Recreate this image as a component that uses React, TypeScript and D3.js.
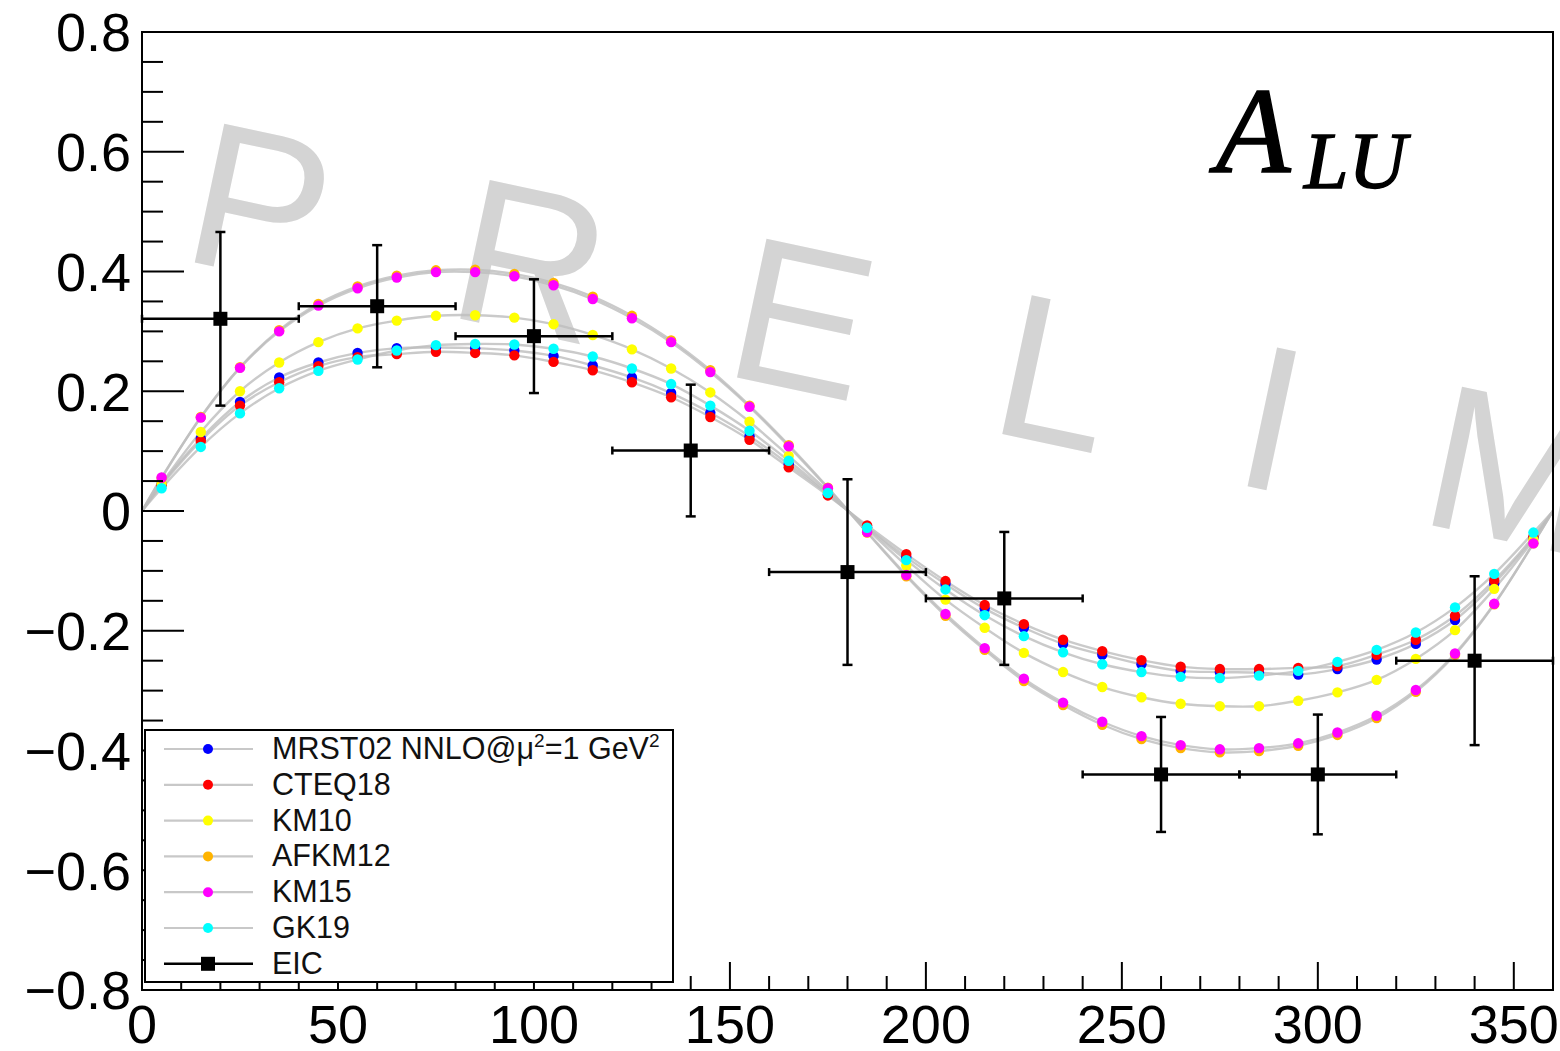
import React from "react";
import * as d3 from "d3";

const PHI = [5, 15, 25, 35, 45, 55, 65, 75, 85, 95, 105, 115, 125, 135, 145, 155, 165, 175, 185, 195, 205, 215, 225, 235, 245, 255, 265, 275, 285, 295, 305, 315, 325, 335, 345, 355];

const MRST02 = [0.045, 0.121, 0.182, 0.223, 0.248, 0.264, 0.272, 0.273, 0.272, 0.268, 0.259, 0.243, 0.223, 0.197, 0.164, 0.125, 0.078, 0.028, -0.027, -0.077, -0.122, -0.163, -0.195, -0.222, -0.240, -0.256, -0.267, -0.269, -0.270, -0.273, -0.264, -0.248, -0.222, -0.182, -0.121, -0.045];
const CTEQ18 = [0.043, 0.117, 0.176, 0.215, 0.242, 0.257, 0.262, 0.266, 0.264, 0.260, 0.249, 0.235, 0.215, 0.190, 0.157, 0.119, 0.073, 0.026, -0.024, -0.072, -0.117, -0.157, -0.189, -0.215, -0.234, -0.249, -0.260, -0.264, -0.264, -0.262, -0.259, -0.240, -0.215, -0.175, -0.116, -0.043];
const KM10 = [0.046, 0.132, 0.200, 0.248, 0.282, 0.305, 0.318, 0.326, 0.327, 0.323, 0.312, 0.294, 0.270, 0.238, 0.198, 0.149, 0.092, 0.033, -0.030, -0.091, -0.148, -0.195, -0.237, -0.269, -0.294, -0.311, -0.322, -0.326, -0.326, -0.317, -0.303, -0.282, -0.247, -0.199, -0.130, -0.048];
const AFKM12 = [0.055, 0.157, 0.240, 0.302, 0.346, 0.375, 0.393, 0.402, 0.403, 0.396, 0.381, 0.358, 0.326, 0.285, 0.235, 0.176, 0.110, 0.039, -0.036, -0.109, -0.175, -0.232, -0.284, -0.324, -0.357, -0.381, -0.396, -0.403, -0.401, -0.392, -0.374, -0.346, -0.302, -0.240, -0.156, -0.054];
const KM15 = [0.056, 0.156, 0.239, 0.300, 0.343, 0.372, 0.390, 0.399, 0.399, 0.392, 0.377, 0.354, 0.322, 0.282, 0.232, 0.174, 0.108, 0.038, -0.035, -0.107, -0.172, -0.229, -0.280, -0.320, -0.352, -0.376, -0.391, -0.398, -0.396, -0.388, -0.370, -0.342, -0.299, -0.238, -0.155, -0.054];
const GK19 = [0.038, 0.107, 0.163, 0.205, 0.234, 0.253, 0.268, 0.277, 0.279, 0.278, 0.271, 0.258, 0.238, 0.212, 0.176, 0.134, 0.084, 0.030, -0.028, -0.082, -0.131, -0.174, -0.209, -0.236, -0.256, -0.269, -0.277, -0.279, -0.275, -0.267, -0.252, -0.232, -0.203, -0.161, -0.105, -0.036];

const SERIES_NAMES = ["MRST02", "CTEQ18", "KM10", "AFKM12", "KM15", "GK19"];
const SERIES_COLORS = ["#0000ff", "#ff0000", "#ffff00", "#ffb400", "#ff00ff", "#00ffff"];
const SERIES_VALUES = [MRST02, CTEQ18, KM10, AFKM12, KM15, GK19];

const EIC_PHI = [20, 60, 100, 140, 180, 220, 260, 300, 340];
const EIC_VAL = [0.321, 0.342, 0.292, 0.101, -0.102, -0.146, -0.440, -0.440, -0.250];
const EIC_ERR = [0.145, 0.102, 0.095, 0.110, 0.155, 0.111, 0.096, 0.100, 0.141];
const EIC_XERR = 20;

const W = 1560, H = 1051;
const L = 142, R = 1553, T = 32, B = 990;

export default function App() {
  const x = d3.scaleLinear().domain([0, 360]).range([L, R]);
  const y = d3.scaleLinear().domain([-0.8, 0.8]).range([B, T]);
  const line = d3.line<[number, number]>().x(d => x(d[0])).y(d => y(d[1])).curve(d3.curveCatmullRom.alpha(0.5));

  const yMinor = y.ticks(32);
  const yMajor = y.ticks(8);
  const xMinor = x.ticks(36);
  const xMajor = x.ticks(7);
  const isMajorY = (t: number) => Math.abs(t / 0.2 - Math.round(t / 0.2)) < 1e-6;
  const isMajorX = (t: number) => t % 50 === 0;
  const fmtY = (v: number) => (Math.abs(v) < 1e-9 ? "0" : d3.format(".1f")(v));
  const fmtX = (v: number) => d3.format("d")(v);

  const font = "'Liberation Sans', Arial, Helvetica, sans-serif";
  const legendRows = [
    { label: "MRST02", color: SERIES_COLORS[0] },
    { label: "CTEQ18", color: SERIES_COLORS[1] },
    { label: "KM10", color: SERIES_COLORS[2] },
    { label: "AFKM12", color: SERIES_COLORS[3] },
    { label: "KM15", color: SERIES_COLORS[4] },
    { label: "GK19", color: SERIES_COLORS[5] },
    { label: "EIC", color: "#000" },
  ];
  const legX = 145, legY = 730, legW = 528, legH = 252, rowH = 35.8, firstRow = 749;

  return (
    <svg width={W} height={H} style={{ position: "absolute", left: 0, top: 0, background: "#fff" }}>
      <rect x={0} y={0} width={W} height={H} fill="#fff" />
      {/* watermark */}
      <text
        x={178}
        y={262}
        transform="rotate(12 193 262)"
        fontFamily={font}
        fontSize={206}
        letterSpacing={134}
        fill="#d4d4d4"
      >
        PRELIMINARY
      </text>

      {/* model curves */}
      {SERIES_VALUES.map((vals, i) => {
        const pts: [number, number][] = [[0, 0], ...PHI.map((p, j) => [p, vals[j]] as [number, number]), [360, 0]];
        return <path key={"l" + i} d={line(pts) || ""} fill="none" stroke="#bdbdbd" strokeOpacity={0.8} strokeWidth={2.4} />;
      })}
      {SERIES_VALUES.map((vals, i) => (
        <g key={"d" + i}>
          {PHI.map((p, j) => (
            <circle key={j} cx={x(p)} cy={y(vals[j])} r={5.2} fill={SERIES_COLORS[i]} />
          ))}
        </g>
      ))}

      {/* EIC pseudo-data */}
      <g stroke="#000" strokeWidth={2.5}>
        {EIC_PHI.map((p, i) => {
          const cx = x(p), cy = y(EIC_VAL[i]);
          const x0 = x(Math.max(0, p - EIC_XERR)), x1 = x(Math.min(360, p + EIC_XERR));
          const y0 = y(EIC_VAL[i] + EIC_ERR[i]), y1 = y(EIC_VAL[i] - EIC_ERR[i]);
          return (
            <g key={i}>
              <line x1={x0} x2={x1} y1={cy} y2={cy} />
              <line x1={x0} x2={x0} y1={cy - 4} y2={cy + 4} />
              <line x1={x1} x2={x1} y1={cy - 4} y2={cy + 4} />
              <line x1={cx} x2={cx} y1={y0} y2={y1} />
              <line x1={cx - 5} x2={cx + 5} y1={y0} y2={y0} />
              <line x1={cx - 5} x2={cx + 5} y1={y1} y2={y1} />
              <rect x={cx - 7} y={cy - 7} width={14} height={14} fill="#000" stroke="none" />
            </g>
          );
        })}
      </g>

      {/* axes */}
      <g stroke="#000" strokeWidth={2}>
        {yMinor.map((t, i) => (
          <line key={"yt" + i} x1={L} x2={L + (isMajorY(t) ? 42 : 21)} y1={y(t)} y2={y(t)} />
        ))}
        {xMinor.map((t, i) => (
          <line key={"xt" + i} x1={x(t)} x2={x(t)} y1={B} y2={B - (isMajorX(t) ? 28 : 14)} />
        ))}
        <rect x={L} y={T} width={R - L} height={B - T} fill="none" />
      </g>
      <g fontFamily={font} fontSize={54} fill="#000">
        {yMajor.map((t, i) => (
          <text key={"yl" + i} x={131} y={y(t)} dy="0.36em" textAnchor="end">
            {fmtY(t)}
          </text>
        ))}
        {xMajor.map((t, i) => (
          <text key={"xl" + i} x={x(t)} y={1043} textAnchor="middle">
            {fmtX(t)}
          </text>
        ))}
      </g>

      {/* legend */}
      <rect x={legX} y={legY} width={legW} height={legH} fill="#fff" stroke="#000" strokeWidth={2} />
      {legendRows.map((r, i) => {
        const cy = firstRow + i * rowH;
        const isEIC = r.label === "EIC";
        return (
          <g key={"lg" + i}>
            <line x1={164} x2={253} y1={cy} y2={cy} stroke={isEIC ? "#000" : "#c8c8c8"} strokeWidth={isEIC ? 2.5 : 2.2} />
            {isEIC ? (
              <rect x={208 - 7} y={cy - 7} width={14} height={14} fill="#000" />
            ) : (
              <circle cx={208} cy={cy} r={5} fill={r.color} />
            )}
            <text x={272} y={cy + 10} fontFamily={font} fontSize={30.5} fill="#111">
              {i === 0 ? (
                <>
                  MRST02 NNLO@μ<tspan dy={-12} fontSize={19}>2</tspan>
                  <tspan dy={12}>=1 GeV</tspan>
                  <tspan dy={-12} fontSize={19}>2</tspan>
                </>
              ) : (
                r.label
              )}
            </text>
          </g>
        );
      })}

      {/* A_LU label */}
      <text fontFamily="'Liberation Serif', 'Times New Roman', serif" fontStyle="italic" fill="#000" stroke="#000" strokeWidth={1.5}>
        <tspan x={1216} y={172} fontSize={122}>A</tspan>
        <tspan x={1304} y={188} fontSize={80}>LU</tspan>
      </text>
    </svg>
  );
}
